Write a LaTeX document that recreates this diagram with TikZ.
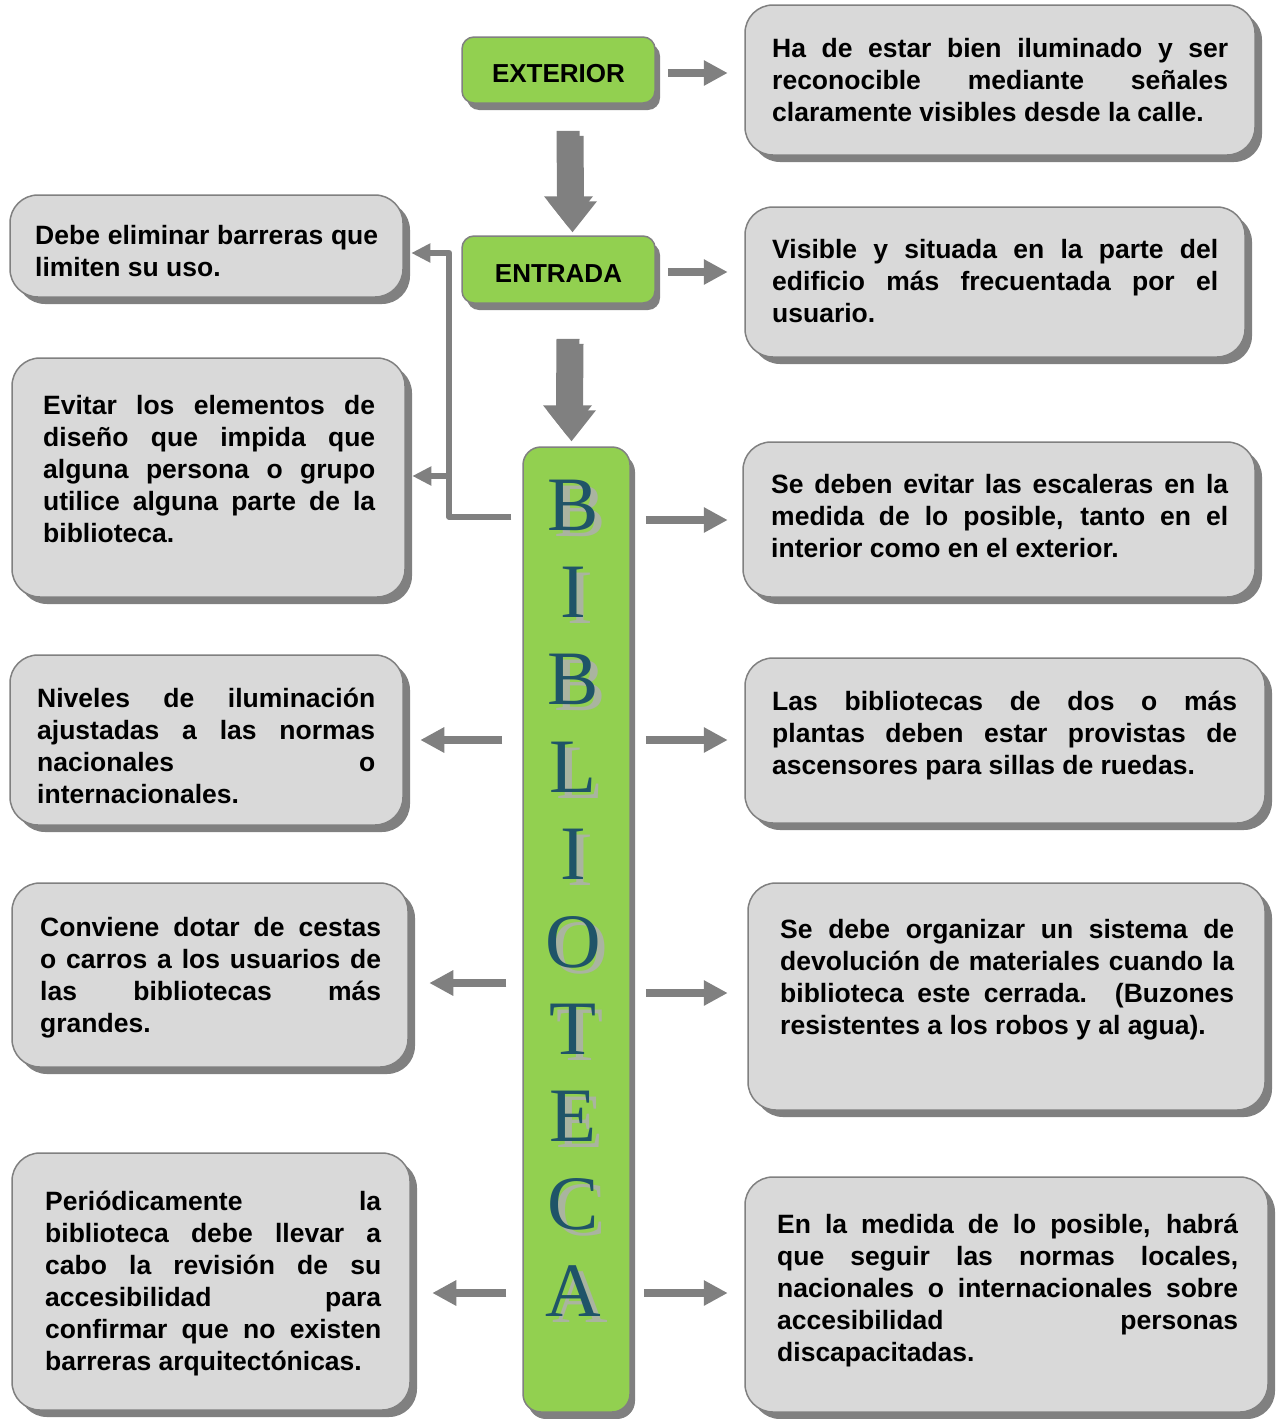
\documentclass[tikz,border=0pt]{standalone}
\usepackage{fontspec}
\setmainfont{Liberation Sans}
\newfontfamily\serifletters{Liberation Serif}
\usetikzlibrary{shadows,arrows.meta,calc}

\definecolor{boxgray}{RGB}{217,217,217}
\definecolor{edgegray}{RGB}{128,128,128}
\definecolor{shadowgray}{RGB}{128,128,128}
\definecolor{leafgreen}{RGB}{146,208,80}
\definecolor{arrowgray}{RGB}{128,128,128}
\definecolor{letterteal}{RGB}{31,84,104}
\definecolor{lettershadow}{RGB}{170,180,160}

\newcommand{\jl}[2]{\makebox[#1][s]{#2}}
\newcommand{\topstrut}{\rule{0pt}{26pt}}
\newcommand{\blockarrow}[4]{%
  \fill[arrowgray] ($(#1)+(-11.5+#3,#4)$) -- ($(#1)+(11.5+#3,#4)$)
    -- ($(#2)+(11.5+#3,-31+#4)$) -- ($(#2)+(24.5+#3,-31+#4)$)
    -- ($(#2)+(#3,#4)$) -- ($(#2)+(-24.5+#3,-31+#4)$)
    -- ($(#2)+(-11.5+#3,-31+#4)$) -- cycle;}

\begin{document}
\begin{tikzpicture}[x=1pt,y=-1pt,
  graybox/.style={draw=edgegray, line width=1.5pt, fill=boxgray, rounded corners=28pt,
    drop shadow={shadow xshift=7pt, shadow yshift=-7pt, fill=shadowgray, opacity=1},
    inner sep=0pt},
  greenbox/.style={draw=edgegray, line width=1.5pt, fill=leafgreen, rounded corners=12pt,
    drop shadow={shadow xshift=5pt, shadow yshift=-7pt, fill=shadowgray, opacity=1},
    inner sep=0pt, font=\bfseries\fontsize{26}{30}\selectfont, text height=26pt},
  boxtext/.style={anchor=north west, inner sep=0pt, align=left,
    font=\bfseries\fontsize{26.5}{32}\selectfont},
  harrow/.style={draw=arrowgray, line width=8pt, -{Triangle[length=24pt,width=24pt]}},
  tarrow/.style={draw=arrowgray, line width=6pt, line join=round,
    -{Triangle[length=19pt,width=18pt]}},
  letter/.style={font=\serifletters\fontsize{77}{80}\selectfont, text=letterteal,
    anchor=base, inner sep=0pt},
  lettershade/.style={letter, text=lettershadow},
]
\useasboundingbox (0,0) rectangle (1280,1419);

% green nodes
\node[greenbox, minimum width=193pt, minimum height=66pt] (ext) at (558.5,70) {EXTERIOR};
\node[greenbox, minimum width=193pt, minimum height=67pt] (ent) at (558.5,269.5) {ENTRADA};
\node[greenbox, rounded corners=18pt, minimum width=107pt, minimum height=965pt] (bib) at (576.5,929.5) {};

% letters
\foreach \l [count=\i from 0] in {B,I,B,L,I,O,T,E,C,A}{
  \node[lettershade] (ls\i) at (580,536+87.4*\i) {\l};
  \node[letter] (l\i) at (573,530+87.4*\i) {\l};
}

% gray boxes
\node[graybox, minimum width=510pt, minimum height=150pt] (b1) at (1000,80) {};
\node[graybox, minimum width=500pt, minimum height=150pt] (b2) at (995,282) {};
\node[graybox, minimum width=512pt, minimum height=155pt] (b3) at (999,519.5) {};
\node[graybox, minimum width=520pt, minimum height=165pt] (b4) at (1005,740.5) {};
\node[graybox, minimum width=517pt, minimum height=227pt] (b5) at (1006.5,996.5) {};
\node[graybox, minimum width=523pt, minimum height=235pt] (b6) at (1006.5,1294.5) {};
\node[graybox, minimum width=393pt, minimum height=102pt] (b7) at (206.5,246) {};
\node[graybox, minimum width=393pt, minimum height=239pt] (b8) at (208.5,477.5) {};
\node[graybox, minimum width=393pt, minimum height=170pt] (b9) at (206.5,740) {};
\node[graybox, minimum width=396pt, minimum height=184pt] (b10) at (210,975) {};
\node[graybox, minimum width=398pt, minimum height=257pt] (b11) at (211,1281.5) {};

% texts
\node[boxtext] (t1) at (772,31.5) {\topstrut\jl{456pt}{Ha de estar bien iluminado y ser}\\
\jl{456pt}{reconocible mediante señales}\\
claramente visibles desde la calle.};
\node[boxtext] (t2) at (772,232.5) {\topstrut\jl{446pt}{Visible y situada en la parte del}\\
\jl{446pt}{edificio más frecuentada por el}\\
usuario.};
\node[boxtext] (t3) at (771,467.5) {\topstrut\jl{457pt}{Se deben evitar las escaleras en la}\\
\jl{457pt}{medida de lo posible, tanto en el}\\
interior como en el exterior.};
\node[boxtext] (t4) at (772,684.5) {\topstrut\jl{465pt}{Las bibliotecas de dos o más}\\
\jl{465pt}{plantas deben estar provistas de}\\
ascensores para sillas de ruedas.};
\node[boxtext] (t5) at (780,912.5) {\topstrut\jl{454pt}{Se debe organizar un sistema de}\\
\jl{454pt}{devolución de materiales cuando la}\\
\jl{454pt}{biblioteca este cerrada. (Buzones}\\
resistentes a los robos y al agua).};
\node[boxtext] (t6) at (777,1207.5) {\topstrut\jl{461pt}{En la medida de lo posible, habrá}\\
\jl{461pt}{que seguir las normas locales,}\\
\jl{461pt}{nacionales o internacionales sobre}\\
\jl{461pt}{accesibilidad personas}\\
discapacitadas.};
\node[boxtext] (t7) at (35,218.5) {\topstrut\jl{343pt}{Debe eliminar barreras que}\\
limiten su uso.};
\node[boxtext] (t8) at (43,388.5) {\topstrut\jl{332pt}{Evitar los elementos de}\\
\jl{332pt}{diseño que impida que}\\
\jl{332pt}{alguna persona o grupo}\\
\jl{332pt}{utilice alguna parte de la}\\
biblioteca.};
\node[boxtext] (t9) at (37,681.5) {\topstrut\jl{338pt}{Niveles de iluminación}\\
\jl{338pt}{ajustadas a las normas}\\
\jl{338pt}{nacionales o}\\
internacionales.};
\node[boxtext] (t10) at (40,910.5) {\topstrut\jl{341pt}{Conviene dotar de cestas}\\
\jl{341pt}{o carros a los usuarios de}\\
\jl{341pt}{las bibliotecas más}\\
grandes.};
\node[boxtext] (t11) at (45,1184.5) {\topstrut\jl{336pt}{Periódicamente la}\\
\jl{336pt}{biblioteca debe llevar a}\\
\jl{336pt}{cabo la revisión de su}\\
\jl{336pt}{accesibilidad para}\\
\jl{336pt}{confirmar que no existen}\\
barreras arquitectónicas.};

% block arrows
\coordinate (a1top) at ($(ext.south)+(9.5,27)$);
\coordinate (a1tip) at ($(ent.north)+(10,-8)$);
\coordinate (a2top) at ($(ent.south)+(9.5,35)$);
\coordinate (a2tip) at ($(bib.north)+(-9,-10)$);
\blockarrow{a1top}{a1tip}{4}{5}
\blockarrow{a1top}{a1tip}{0}{0}
\blockarrow{a2top}{a2tip}{4}{5}
\blockarrow{a2top}{a2tip}{0}{0}

% horizontal arrows
\draw[harrow] ($(ext.east)+(12,3)$) -- ++(60,0);
\draw[harrow] ($(ent.east)+(12,2.5)$) -- ++(60,0);
\draw[harrow] ($(bib.east)+(15,-409.5)$) -- ++(82,0);
\draw[harrow] ($(bib.east)+(15,-189.5)$) -- ++(82,0);
\draw[harrow] ($(bib.east)+(15,63.5)$) -- ++(82,0);
\draw[harrow] ($(bib.east)+(13,363.5)$) -- ++(84,0);
\draw[harrow] ($(bib.west)+(-20,-189.5)$) -- ++(-82,0);
\draw[harrow] ($(bib.west)+(-16,53.5)$) -- ++(-77,0);
\draw[harrow] ($(bib.west)+(-16,363.5)$) -- ++(-74,0);

% left connector
\draw[tarrow] ($(bib.west)+(-11,-412.5)$) -- ++(-62,0) -- ++(0,-264) -- ++(-38,0);
\draw[tarrow] ($(bib.west)+(-73,-453.5)$) -- ++(-37,0);
\end{tikzpicture}
\end{document}
